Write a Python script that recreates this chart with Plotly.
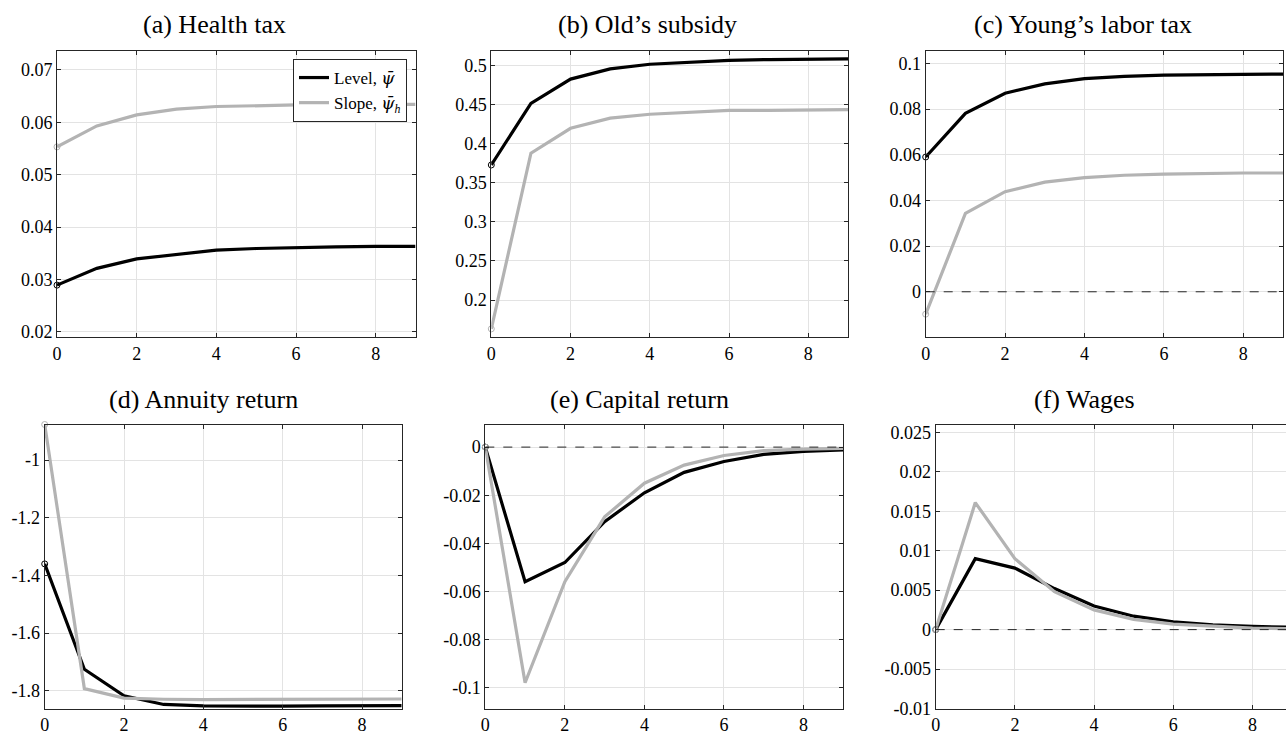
import plotly.graph_objects as go

W, H = 1286, 736
FONT = "Liberation Serif"

periods = [0, 1, 2, 3, 4, 5, 6, 7, 8, 9]

titles = ["(a) Health tax", "(b) Old\u2019s subsidy", "(c) Young\u2019s labor tax",
          "(d) Annuity return", "(e) Capital return", "(f) Wages"]

level_health = [0.0289, 0.0321, 0.0339, 0.0348, 0.0356, 0.0359, 0.0361, 0.0362, 0.0363, 0.0363]
slope_health = [0.0553, 0.0593, 0.0614, 0.0625, 0.0630, 0.0632, 0.0633, 0.0634, 0.0634, 0.0634]

level_subsidy = [0.373, 0.452, 0.483, 0.496, 0.502, 0.505, 0.507, 0.508, 0.508, 0.509]
slope_subsidy = [0.163, 0.388, 0.420, 0.433, 0.438, 0.441, 0.443, 0.443, 0.444, 0.444]

level_labor = [0.0590, 0.0781, 0.0869, 0.0910, 0.0933, 0.0943, 0.0948, 0.0951, 0.0952, 0.0953]
slope_labor = [-0.0098, 0.0343, 0.0438, 0.0480, 0.0500, 0.0510, 0.0515, 0.0518, 0.0520, 0.0520]

level_annuity = [-1.360, -1.725, -1.817, -1.847, -1.852, -1.853, -1.853, -1.852, -1.852, -1.851]
slope_annuity = [-0.877, -1.792, -1.825, -1.829, -1.830, -1.830, -1.829, -1.829, -1.828, -1.828]

level_capital = [0.0, -0.056, -0.048, -0.031, -0.019, -0.0105, -0.0060, -0.0030, -0.0018, -0.0012]
slope_capital = [0.0, -0.098, -0.056, -0.029, -0.015, -0.0075, -0.0035, -0.0015, -0.0008, -0.0005]

level_wages = [0.0, 0.0090, 0.0078, 0.0052, 0.0030, 0.0017, 0.0010, 0.0006, 0.0004, 0.0003]
slope_wages = [0.0, 0.0161, 0.0090, 0.0048, 0.0025, 0.0013, 0.0007, 0.0004, 0.0002, 0.0001]

levels = [level_health, level_subsidy, level_labor, level_annuity, level_capital, level_wages]
slopes = [slope_health, slope_subsidy, slope_labor, slope_annuity, slope_capital, slope_wages]

level_name = "Level, <i><span style=\"font-family:'DejaVu Serif'\">\u03c8\u0304</span></i>"
slope_name = "Slope, <i><span style=\"font-family:'DejaVu Serif'\">\u03c8\u0304</span><sub>h</sub></i>"

xtick_vals = [0, 2, 4, 6, 8]
xtick_text = ["0", "2", "4", "6", "8"]

ytick_vals = [
    [0.02, 0.03, 0.04, 0.05, 0.06, 0.07],
    [0.2, 0.25, 0.3, 0.35, 0.4, 0.45, 0.5],
    [0.0, 0.02, 0.04, 0.06, 0.08, 0.1],
    [-1.8, -1.6, -1.4, -1.2, -1.0],
    [-0.1, -0.08, -0.06, -0.04, -0.02, 0.0],
    [-0.01, -0.005, 0.0, 0.005, 0.01, 0.015, 0.02, 0.025],
]
ytick_text = [
    ["0.02", "0.03", "0.04", "0.05", "0.06", "0.07"],
    ["0.2", "0.25", "0.3", "0.35", "0.4", "0.45", "0.5"],
    ["0", "0.02", "0.04", "0.06", "0.08", "0.1"],
    ["-1.8", "-1.6", "-1.4", "-1.2", "-1"],
    ["-0.1", "-0.08", "-0.06", "-0.04", "-0.02", "0"],
    ["-0.01", "-0.005", "0", "0.005", "0.01", "0.015", "0.02", "0.025"],
]
zero_line = [False, False, True, False, True, True]

# layout geometry (pixels)
boxes = [
    (57.0, 415.5, 51, 337),
    (491.3, 848.0, 51, 337),
    (925.7, 1283.0, 51, 337),
    (44.7, 401.7, 424.5, 708.5),
    (485.3, 843.3, 424.5, 708.5),
    (935.7, 1292.0, 424.5, 708.5),
]
yranges = [
    [0.0190, 0.0736],
    [0.1526, 0.519],
    [-0.0198, 0.1054],
    [-1.861, -0.877],
    [-0.1087, 0.0094],
    [-0.0100, 0.0260],
]
title_pos = [(214.5, 25), (647.7, 25), (1082.5, 25), (203.3, 399), (639.5, 399), (1084.5, 399)]

BLACK = "#000000"
GRAY = "#b3b3b3"
AXC = "#262626"
GRID = "#e3e3e3"

fig = go.Figure()
annotations = []
shapes = []

for i in range(6):
    n = "" if i == 0 else str(i + 1)
    xa, ya = "x" + n, "y" + n
    x0, x1, y0, y1 = boxes[i]
    right = min(x1, W)
    xmax = 9 * (right - x0) / (x1 - x0)
    dom_x = [x0 / W, right / W]
    dom_y = [1 - y1 / H, 1 - y0 / H]
    cut = x1 > W

    if zero_line[i]:
        shapes.append(dict(type="line", xref=xa + " domain", yref=ya, x0=0, x1=1,
                           y0=0, y1=0, line=dict(color="#262626", width=1, dash="dash"),
                           layer="above"))

    fig.add_trace(go.Scatter(
        x=periods, y=levels[i], mode="lines", xaxis=xa, yaxis=ya,
        line=dict(color=BLACK, width=3.2), name=level_name,
        showlegend=(i == 0), legendrank=1, hoverinfo="skip"))
    fig.add_trace(go.Scatter(
        x=periods, y=slopes[i], mode="lines", xaxis=xa, yaxis=ya,
        line=dict(color=GRAY, width=3.2), name=slope_name,
        showlegend=(i == 0), legendrank=2, hoverinfo="skip"))
    fig.add_trace(go.Scatter(
        x=[periods[0]], y=[levels[i][0]], mode="markers", xaxis=xa, yaxis=ya,
        marker=dict(symbol="circle-open", size=6, color=BLACK, line=dict(width=1)),
        showlegend=False, hoverinfo="skip", cliponaxis=False))
    fig.add_trace(go.Scatter(
        x=[periods[0]], y=[slopes[i][0]], mode="markers", xaxis=xa, yaxis=ya,
        marker=dict(symbol="circle-open", size=6, color=GRAY, line=dict(width=1)),
        showlegend=False, hoverinfo="skip", cliponaxis=False))

    common = dict(showline=True, linecolor=AXC, linewidth=1, ticks="inside",
                  ticklen=4, tickcolor=AXC, showgrid=True, gridcolor=GRID, gridwidth=1,
                  zeroline=False, automargin=False,
                  tickfont=dict(family=FONT, size=18, color="#000000"))
    fig.update_layout({
        ("xaxis" + n): dict(domain=dom_x, anchor=ya, range=[0, xmax],
                            tickvals=xtick_vals, ticktext=xtick_text,
                            mirror="ticks", **common),
        ("yaxis" + n): dict(domain=dom_y, anchor=xa, range=yranges[i],
                            tickvals=ytick_vals[i], ticktext=ytick_text[i],
                            mirror=(False if cut else "ticks"), **common),
    })
    tx, ty = title_pos[i]
    annotations.append(dict(text=titles[i], x=tx / W, y=1 - ty / H, xref="paper", yref="paper",
                            xanchor="center", yanchor="middle", showarrow=False,
                            font=dict(family=FONT, size=26, color="#000000")))

fig.update_layout(
    width=W, height=H, margin=dict(l=0, r=0, t=0, b=0, autoexpand=False),
    paper_bgcolor="white", plot_bgcolor="white",
    annotations=annotations, shapes=shapes,
    legend=dict(x=407 / W, y=1 - 59 / H, xanchor="right", yanchor="top",
                bgcolor="white", bordercolor=AXC, borderwidth=1,
                font=dict(family=FONT, size=17, color="#000000"),
                itemwidth=30, tracegroupgap=0),
    showlegend=True,
)

fig.write_html("out.html")
